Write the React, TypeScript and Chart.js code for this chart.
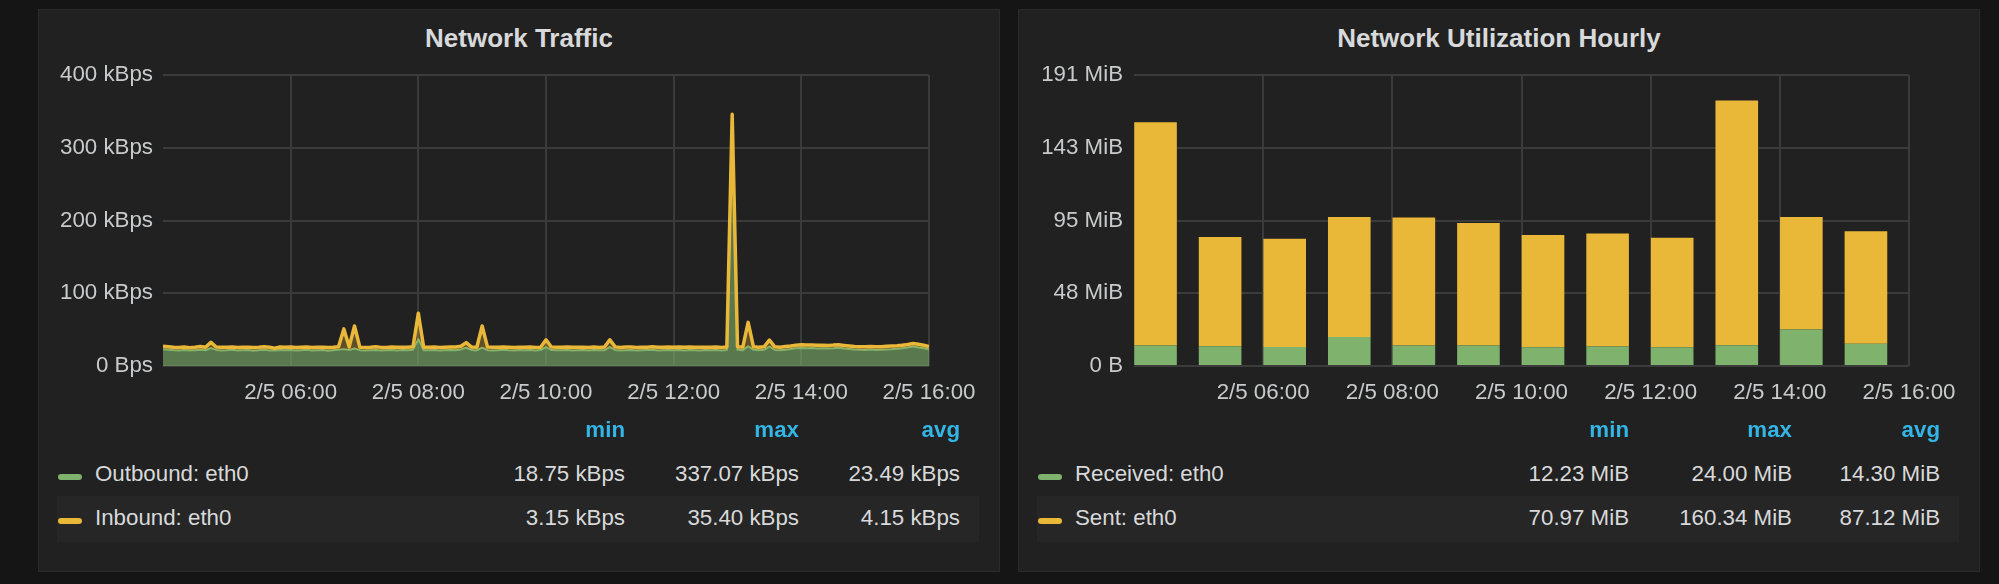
import React, { useEffect, useRef } from 'react';
import { Chart, registerables } from 'chart.js';

Chart.register(...registerables);

const FONT = '"Liberation Sans", Arial, Helvetica, sans-serif';
const GREEN = '#7eb26d';
const YELLOW = '#eab839';
const GRID = '#3b3b3b';
const TICK = '#c9cacb';
const TEXT = '#d8d9da';
const BLUE = '#33b5e5';
const MIB = 1048576;

// ---- Network Traffic: 5-minute samples, 2/5 04:00 -> 16:00 (kBps) ----
const START_HOUR = 4;
const SAMPLE_MINUTES = 5;
const TIME_TICKS = [4, 6, 8, 10, 12, 14, 16];
const TRAFFIC_TICKS = [0, 100, 200, 300, 400];

const OUTBOUND = [
  22.9, 22.3, 21.8, 21.2, 22.0, 21.3, 21.8, 22.4, 21.6, 24.6, 22.1, 21.4,
  21.7, 22.2, 21.2, 21.6, 22.0, 21.1, 21.8, 22.3, 21.4, 21.3, 21.9, 21.5,
  22.0, 21.3, 21.7, 22.2, 21.2, 21.6, 21.9, 21.1, 21.7, 22.3, 23.2, 21.9,
  24.1, 21.8, 21.3, 21.7, 22.1, 21.2, 21.6, 22.0, 21.4, 21.9, 21.6, 22.2,
  37.0, 21.6, 21.5, 22.0, 21.2, 21.7, 22.1, 21.8, 22.8, 25.1, 21.9, 21.4,
  25.2, 21.8, 21.3, 21.7, 22.2, 21.5, 21.2, 21.9, 21.6, 22.1, 21.4, 21.9,
  26.1, 21.9, 21.5, 21.6, 22.1, 21.3, 21.7, 21.9, 21.2, 22.0, 21.5, 21.8,
  26.0, 22.1, 21.4, 21.7, 22.0, 21.2, 21.6, 21.9, 22.2, 21.4, 21.7, 22.0,
  21.5, 21.9, 21.3, 22.1, 21.7, 21.4, 22.0, 21.6, 21.9, 21.3, 22.1, 337.07,
  22.4, 21.8, 27.1, 22.2, 21.6, 22.3, 26.8, 22.0, 21.7, 22.5, 23.4, 24.5,
  24.9, 24.4, 24.8, 24.1, 24.5, 23.9, 24.3, 25.1, 24.0, 23.3, 22.7, 22.3,
  22.1, 22.7, 22.0, 22.5, 22.8, 23.1, 23.7, 24.5, 25.3, 26.9, 25.5, 24.3,
  22.7,
];

const INBOUND = [
  4.3, 4.1, 3.9, 4.4, 4.2, 3.8, 4.0, 4.5, 4.1, 7.9, 4.0, 4.3,
  4.2, 4.0, 4.4, 4.1, 3.9, 4.3, 4.0, 4.2, 4.4, 3.2, 4.1, 4.3,
  4.0, 4.3, 4.1, 3.9, 4.4, 4.2, 4.0, 4.3, 4.1, 4.2, 27.8, 4.2,
  30.9, 4.1, 4.3, 4.0, 4.2, 4.4, 3.9, 4.1, 4.3, 4.0, 4.2, 4.1,
  35.4, 4.3, 4.2, 4.0, 4.4, 4.1, 3.9, 4.2, 4.3, 7.1, 4.1, 4.4,
  29.8, 4.2, 4.4, 4.1, 3.9, 4.3, 4.2, 4.0, 4.3, 4.1, 4.2, 4.0,
  9.9, 4.1, 4.3, 4.2, 4.0, 4.4, 4.1, 3.9, 4.3, 4.2, 4.0, 4.3,
  10.1, 4.2, 4.0, 4.3, 4.1, 4.4, 4.2, 3.9, 4.1, 4.3, 4.2, 4.0,
  4.3, 4.1, 4.4, 4.0, 4.2, 4.3, 3.9, 4.2, 4.1, 4.3, 4.0, 9.0,
  4.2, 4.3, 32.9, 4.1, 4.2, 4.0, 8.9, 4.3, 4.1, 4.2, 4.0, 4.1,
  4.2, 4.3, 4.0, 4.3, 4.1, 4.2, 4.4, 4.0, 4.3, 4.2, 4.1, 4.3,
  4.2, 4.0, 4.3, 4.1, 4.2, 4.4, 4.0, 4.1, 4.2, 4.1, 4.3, 4.2,
  4.1,
];

// ---- Network Utilization Hourly (MiB) ----
const HOURS = [4, 5, 6, 7, 8, 9, 10, 11, 12, 13, 14, 15];
const RECEIVED = [13.4, 12.9, 12.4, 19.0, 13.4, 13.5, 12.23, 12.8, 12.3, 13.6, 24.0, 14.6];
const SENT = [146.3, 71.7, 70.97, 78.6, 84.0, 80.3, 73.6, 74.1, 71.7, 160.34, 73.6, 73.8];
const UTIL_TICK_BYTES = [0, 50e6, 100e6, 150e6, 200e6];

// ---- Legends ----
const LEGEND_HEADERS = ['min', 'max', 'avg'];
const TRAFFIC_NAMES = ['Outbound: eth0', 'Inbound: eth0'];
const TRAFFIC_STATS = [
  ['18.75 kBps', '337.07 kBps', '23.49 kBps'],
  ['3.15 kBps', '35.40 kBps', '4.15 kBps'],
];
const UTIL_NAMES = ['Received: eth0', 'Sent: eth0'];
const UTIL_STATS = [
  ['12.23 MiB', '24.00 MiB', '14.30 MiB'],
  ['70.97 MiB', '160.34 MiB', '87.12 MiB'],
];
const SERIES_COLORS = [GREEN, YELLOW];

const PANEL_W = 962;
const PANEL_H = 563;
const CANVAS_W = 962;
const CANVAS_H = 370;
const tickFont = { family: FONT, size: 22.3 };

function timeAxis(): any {
  return {
    type: 'linear',
    min: START_HOUR,
    max: 16,
    offset: false,
    stacked: true,
    afterBuildTicks: (s: any) => {
      s.ticks = TIME_TICKS.map((v) => ({ value: v }));
    },
    afterFit: (s: any) => {
      s.height = 54;
    },
    ticks: {
      autoSkip: false,
      maxRotation: 0,
      minRotation: 0,
      padding: 13.5,
      color: TICK,
      font: tickFont,
      callback: (v: any) => (v === START_HOUR ? '' : `2/5 ${String(v).padStart(2, '0')}:00`),
    },
    grid: {
      offset: false,
      drawTicks: false,
      lineWidth: 2,
      color: (c: any) => (c.tick && c.tick.value === START_HOUR ? 'rgba(0,0,0,0)' : GRID),
    },
    border: { display: false },
  };
}

function baseOptions(scales: any): any {
  return {
    responsive: false,
    animation: false,
    events: [],
    layout: { padding: { top: 25, right: 71, left: 0, bottom: 0 } },
    plugins: { legend: { display: false }, tooltip: { enabled: false } },
    scales,
  };
}

function trafficConfig(): any {
  const times = OUTBOUND.map((_, i) => START_HOUR + (i * SAMPLE_MINUTES) / 60);
  const stackedTop = OUTBOUND.map((v, i) => v + INBOUND[i]);
  return {
    type: 'line',
    data: {
      datasets: [
        {
          label: TRAFFIC_NAMES[0],
          data: OUTBOUND.map((v, i) => ({ x: times[i], y: v })),
          borderColor: GREEN,
          borderWidth: 2,
          backgroundColor: 'rgba(126,178,109,0.6)',
          fill: 'origin',
          pointRadius: 0,
          tension: 0,
          borderJoinStyle: 'round',
          order: 0,
        },
        {
          label: TRAFFIC_NAMES[1],
          data: stackedTop.map((v, i) => ({ x: times[i], y: v })),
          borderColor: YELLOW,
          borderWidth: 3.5,
          backgroundColor: 'rgba(234,184,57,0.3)',
          fill: '-1',
          pointRadius: 0,
          tension: 0,
          borderJoinStyle: 'round',
          order: -1,
        },
      ],
    },
    options: baseOptions({
      x: timeAxis(),
      y: {
        min: 0,
        max: 400,
        afterBuildTicks: (s: any) => {
          s.ticks = TRAFFIC_TICKS.map((v) => ({ value: v }));
        },
        afterFit: (s: any) => {
          s.width = 125;
        },
        ticks: {
          padding: 10,
          color: TICK,
          font: tickFont,
          callback: (v: any) => (v === 0 ? '0 Bps' : `${v} kBps`),
        },
        grid: { drawTicks: false, lineWidth: 2, color: GRID },
        border: { display: false },
      },
    }),
  };
}

function utilConfig(): any {
  return {
    type: 'bar',
    data: {
      datasets: [
        {
          label: UTIL_NAMES[0],
          data: RECEIVED.map((v, i) => ({ x: HOURS[i] + 1 / 3, y: v })),
          backgroundColor: GREEN,
          borderWidth: 0,
          barPercentage: 0.66,
          categoryPercentage: 1,
        },
        {
          label: UTIL_NAMES[1],
          data: SENT.map((v, i) => ({ x: HOURS[i] + 1 / 3, y: v })),
          backgroundColor: YELLOW,
          borderWidth: 0,
          barPercentage: 0.66,
          categoryPercentage: 1,
        },
      ],
    },
    options: baseOptions({
      x: timeAxis(),
      y: {
        stacked: true,
        min: 0,
        max: UTIL_TICK_BYTES[UTIL_TICK_BYTES.length - 1] / MIB,
        afterBuildTicks: (s: any) => {
          s.ticks = UTIL_TICK_BYTES.map((b) => ({ value: b / MIB }));
        },
        afterFit: (s: any) => {
          s.width = 116;
        },
        ticks: {
          padding: 11,
          color: TICK,
          font: tickFont,
          callback: (v: any) => (v === 0 ? '0 B' : `${Math.round(v)} MiB`),
        },
        grid: { drawTicks: false, lineWidth: 2, color: GRID },
        border: { display: false },
      },
    }),
  };
}

function ChartCanvas({ makeConfig }: { makeConfig: () => any }) {
  const ref = useRef<HTMLCanvasElement | null>(null);
  useEffect(() => {
    if (!ref.current) return;
    const chart = new Chart(ref.current, makeConfig());
    return () => chart.destroy();
  }, [makeConfig]);
  return (
    <canvas
      ref={ref}
      width={CANVAS_W}
      height={CANVAS_H}
      style={{ position: 'absolute', left: 0, top: 41, width: CANVAS_W, height: CANVAS_H }}
    />
  );
}

const ROW_TOPS = [449.8, 494.3];
const HEADER_TOP = 405.8;

function Panel(props: {
  left: number;
  title: string;
  names: string[];
  stats: string[][];
  colRights: number[];
  makeConfig: () => any;
}) {
  const { left, title, names, stats, colRights, makeConfig } = props;
  const textBase: React.CSSProperties = {
    position: 'absolute',
    height: 30,
    lineHeight: '30px',
    fontFamily: FONT,
    fontSize: 22.3,
    whiteSpace: 'nowrap',
  };
  return (
    <div
      style={{
        position: 'absolute',
        left,
        top: 9,
        width: PANEL_W,
        height: PANEL_H,
        background: '#212121',
        boxShadow: 'inset 0 0 0 1px #2a2a2a',
      }}
    >
      <div
        style={{
          position: 'absolute',
          left: 0,
          top: 13.8,
          width: PANEL_W,
          height: 30,
          lineHeight: '30px',
          textAlign: 'center',
          fontFamily: FONT,
          fontWeight: 'bold',
          fontSize: 26,
          color: TEXT,
          whiteSpace: 'nowrap',
        }}
      >
        {title}
      </div>
      <ChartCanvas makeConfig={makeConfig} />
      <div
        style={{
          position: 'absolute',
          left: 19,
          top: 487,
          width: 922,
          height: 46,
          background: '#262627',
        }}
      />
      {LEGEND_HEADERS.map((h, k) => (
        <div
          key={h}
          style={{
            ...textBase,
            top: HEADER_TOP,
            right: PANEL_W - colRights[k],
            color: BLUE,
            fontWeight: 'bold',
          }}
        >
          {h}
        </div>
      ))}
      {names.map((name, j) => (
        <React.Fragment key={name}>
          <div
            style={{
              position: 'absolute',
              left: 20,
              top: ROW_TOPS[j] + 15,
              width: 24,
              height: 6,
              borderRadius: 3,
              background: SERIES_COLORS[j],
            }}
          />
          <div style={{ ...textBase, left: 57, top: ROW_TOPS[j], color: TEXT }}>{name}</div>
          {stats[j].map((s, k) => (
            <div
              key={k}
              style={{ ...textBase, top: ROW_TOPS[j], right: PANEL_W - colRights[k], color: TEXT }}
            >
              {s}
            </div>
          ))}
        </React.Fragment>
      ))}
    </div>
  );
}

export default function App() {
  return (
    <div
      style={{
        position: 'fixed',
        left: 0,
        top: 0,
        width: 1999,
        height: 584,
        overflow: 'hidden',
        background: '#151516',
      }}
    >
      <Panel
        left={38}
        title="Network Traffic"
        names={TRAFFIC_NAMES}
        stats={TRAFFIC_STATS}
        colRights={[587, 761, 922]}
        makeConfig={trafficConfig}
      />
      <Panel
        left={1018}
        title="Network Utilization Hourly"
        names={UTIL_NAMES}
        stats={UTIL_STATS}
        colRights={[611, 774, 922]}
        makeConfig={utilConfig}
      />
    </div>
  );
}
